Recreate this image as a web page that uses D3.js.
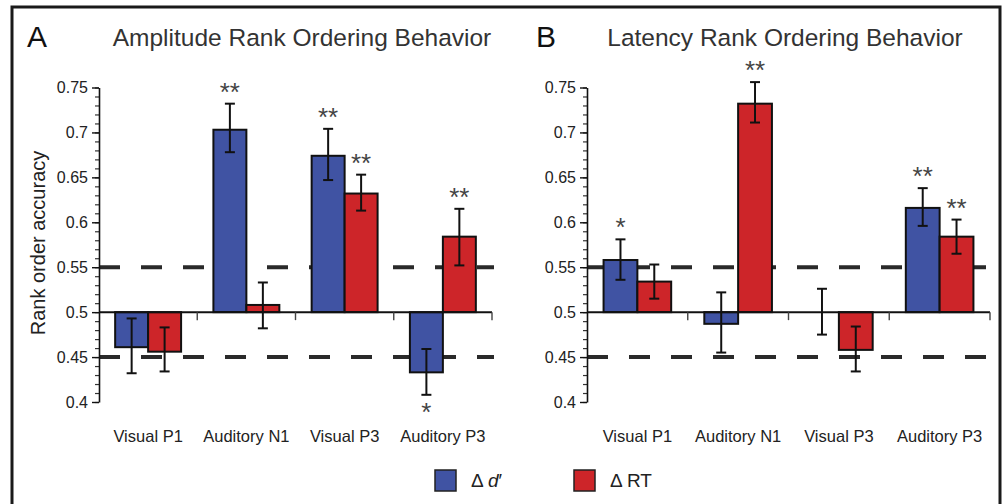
<!DOCTYPE html>
<html>
<head>
<meta charset="utf-8">
<script src="https://cdn.jsdelivr.net/npm/d3@7"></script>
<style>
  body { margin: 0; background: #fff; }
  svg { display: block; font-family: "Liberation Sans", Arial, sans-serif; }
</style>
</head>
<body>
<script>
const width = 1003;
const height = 504;

// data
const categories = ['Visual P1', 'Auditory N1', 'Visual P3', 'Auditory P3'];
const seriesKeys = ['dprime', 'rt'];
const seriesColours = ['#4053a3', '#cd2529'];
const yTicks = [0.4, 0.45, 0.5, 0.55, 0.6, 0.65, 0.7, 0.75];
const refLines = [0.45, 0.55];
const baseline = 0.5;

const ampDprime = [0.461, 0.703, 0.674, 0.433];
const ampDprimeErr = [[0.432, 0.493], [0.678, 0.732], [0.647, 0.704], [0.408, 0.459]];
const ampDprimeSig = ['', '**', '**', '*'];
const ampRT = [0.456, 0.508, 0.632, 0.584];
const ampRTErr = [[0.434, 0.483], [0.482, 0.533], [0.613, 0.653], [0.552, 0.615]];
const ampRTSig = ['', '', '**', '**'];

const latDprime = [0.558, 0.487, 0.500, 0.616];
const latDprimeErr = [[0.536, 0.581], [0.455, 0.522], [0.475, 0.526], [0.596, 0.638]];
const latDprimeSig = ['*', '', '', '**'];
const latRT = [0.534, 0.732, 0.458, 0.584];
const latRTErr = [[0.515, 0.553], [0.711, 0.756], [0.434, 0.484], [0.565, 0.603]];
const latRTSig = ['', '**', '', '**'];

const svg = d3.select('body').append('svg')
    .attr('width', width)
    .attr('height', height);

// outer frame
svg.append('rect')
    .attr('x', 12)
    .attr('y', 7)
    .attr('width', 988)
    .attr('height', 520)
    .attr('fill', 'none')
    .attr('stroke', '#1a1a1a')
    .attr('stroke-width', 3);

function drawPanel(cfg) {
  const g = svg.append('g');

  const x = d3.scaleBand()
      .domain(categories)
      .range([cfg.left, cfg.right]);

  const xSub = d3.scaleBand()
      .domain(seriesKeys)
      .range([0, x.bandwidth()])
      .paddingOuter(0.49);

  const y = d3.scaleLinear()
      .domain([0.4, 0.75])
      .range([402, 87.5]);

  // panel letter and title
  g.append('text')
      .attr('x', cfg.letterX)
      .attr('y', 47)
      .attr('font-size', 30)
      .attr('fill', '#111')
      .text(cfg.letter);

  g.append('text')
      .attr('x', cfg.titleX)
      .attr('y', 46)
      .attr('text-anchor', 'middle')
      .attr('font-size', 24.5)
      .attr('fill', '#333')
      .text(cfg.title);

  if (cfg.yLabel) {
    g.append('text')
        .attr('transform', `translate(45,243) rotate(-90)`)
        .attr('text-anchor', 'middle')
        .attr('font-size', 20)
        .attr('fill', '#222')
        .text(cfg.yLabel);
  }

  // dashed chance lines
  g.selectAll('.ref')
      .data(refLines)
    .enter().append('line')
      .attr('x1', cfg.left)
      .attr('x2', cfg.right + 2)
      .attr('y1', d => y(d))
      .attr('y2', d => y(d))
      .attr('stroke', '#2a2a2a')
      .attr('stroke-width', 4)
      .attr('stroke-dasharray', '21,21');

  // y axis: minor then major ticks
  const minorTicks = d3.range(40, 76).map(v => v / 100);
  g.append('g')
      .attr('transform', `translate(${cfg.left},0)`)
      .call(d3.axisLeft(y).tickValues(minorTicks).tickSize(4).tickFormat(''))
      .call(a => a.select('.domain').remove())
      .call(a => a.selectAll('line').attr('stroke', '#333').attr('stroke-width', 1.2));

  g.append('g')
      .attr('transform', `translate(${cfg.left},0)`)
      .call(d3.axisLeft(y).tickValues(yTicks).tickSize(7).tickSizeOuter(0).tickPadding(4)
        .tickFormat(d => String(+d.toFixed(2))))
      .call(a => a.select('.domain').attr('stroke', '#111').attr('stroke-width', 1.6))
      .call(a => a.selectAll('line').attr('stroke', '#111').attr('stroke-width', 1.4))
      .call(a => a.selectAll('text')
        .attr('font-size', 16)
        .attr('font-family', '"Liberation Sans", Arial, sans-serif')
        .attr('fill', '#222'));

  // category labels
  g.selectAll('.cat')
      .data(categories)
    .enter().append('text')
      .attr('x', d => x(d) + x.bandwidth() / 2)
      .attr('y', 442)
      .attr('text-anchor', 'middle')
      .attr('font-size', 16.5)
      .attr('fill', '#222')
      .text(d => d);

  const rows = [];
  categories.forEach((c, i) => {
    cfg.series.forEach((s, j) => {
      rows.push({
        cat: c,
        key: seriesKeys[j],
        colour: seriesColours[j],
        value: s.values[i],
        lo: s.err[i][0],
        hi: s.err[i][1],
        sig: s.sig[i]
      });
    });
  });

  // bars
  g.selectAll('.bar')
      .data(rows)
    .enter().append('rect')
      .attr('x', d => x(d.cat) + xSub(d.key))
      .attr('width', xSub.bandwidth())
      .attr('y', d => y(Math.max(d.value, baseline)))
      .attr('height', d => Math.abs(y(d.value) - y(baseline)))
      .attr('fill', d => d.colour)
      .attr('stroke', '#111')
      .attr('stroke-width', 2);

  // baseline and category separators
  g.append('line')
      .attr('x1', cfg.left)
      .attr('x2', cfg.right)
      .attr('y1', y(baseline))
      .attr('y2', y(baseline))
      .attr('stroke', '#111')
      .attr('stroke-width', 2);

  g.selectAll('.sep')
      .data(categories)
    .enter().append('line')
      .attr('x1', d => x(d) + x.bandwidth())
      .attr('x2', d => x(d) + x.bandwidth())
      .attr('y1', y(baseline))
      .attr('y2', y(baseline) + 8)
      .attr('stroke', '#444')
      .attr('stroke-width', 1.4);

  // error bars
  const errs = g.selectAll('.err')
      .data(rows)
    .enter().append('g')
      .attr('transform', d => `translate(${x(d.cat) + xSub(d.key) + xSub.bandwidth() / 2},0)`)
      .attr('stroke', '#111')
      .attr('stroke-width', 2);

  errs.append('line')
      .attr('y1', d => y(d.lo))
      .attr('y2', d => y(d.hi));
  errs.append('line')
      .attr('x1', -5).attr('x2', 5)
      .attr('y1', d => y(d.lo)).attr('y2', d => y(d.lo));
  errs.append('line')
      .attr('x1', -5).attr('x2', 5)
      .attr('y1', d => y(d.hi)).attr('y2', d => y(d.hi));

  // significance stars
  g.selectAll('.sig')
      .data(rows.filter(d => d.sig))
    .enter().append('text')
      .attr('x', d => x(d.cat) + xSub(d.key) + xSub.bandwidth() / 2)
      .attr('y', d => d.value >= baseline ? y(d.hi) - 3 : y(d.lo) + 26)
      .attr('text-anchor', 'middle')
      .attr('font-size', 26)
      .attr('fill', '#444')
      .text(d => d.sig);
}

drawPanel({
  letter: 'A',
  letterX: 27,
  title: 'Amplitude Rank Ordering Behavior',
  titleX: 302,
  yLabel: 'Rank order accuracy',
  left: 99,
  right: 492,
  series: [
    {values: ampDprime, err: ampDprimeErr, sig: ampDprimeSig},
    {values: ampRT, err: ampRTErr, sig: ampRTSig}
  ]
});

drawPanel({
  letter: 'B',
  letterX: 536,
  title: 'Latency Rank Ordering Behavior',
  titleX: 785,
  yLabel: null,
  left: 587,
  right: 990,
  series: [
    {values: latDprime, err: latDprimeErr, sig: latDprimeSig},
    {values: latRT, err: latRTErr, sig: latRTSig}
  ]
});

// legend
const legendItems = [
  {x: 435, key: 'dprime'},
  {x: 574, key: 'rt'}
];

const legend = svg.append('g')
    .selectAll('g')
    .data(legendItems)
  .enter().append('g')
    .attr('transform', d => `translate(${d.x},470)`);

legend.append('rect')
    .attr('width', 21)
    .attr('height', 21)
    .attr('fill', (d, i) => seriesColours[i])
    .attr('stroke', '#222')
    .attr('stroke-width', 1.5);

const legendText = legend.append('text')
    .attr('x', 36)
    .attr('y', 17)
    .attr('font-size', 19)
    .attr('fill', '#222');

legendText.each(function(d) {
  const t = d3.select(this);
  if (d.key === 'dprime') {
    t.append('tspan').text('\u0394 ');
    t.append('tspan').attr('font-style', 'italic').text('d');
    t.append('tspan').text('\u2032');
  } else {
    t.text('\u0394 RT');
  }
});
</script>
</body>
</html>
